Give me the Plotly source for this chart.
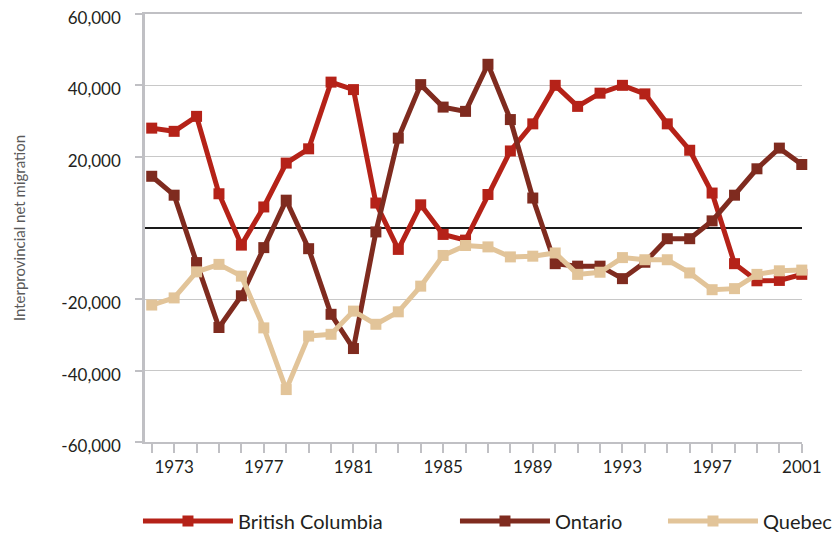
import plotly.graph_objects as go

years = list(range(1972, 2002))

british_columbia = [28000, 27100, 31300, 9600, -4800, 5900, 18200, 22200, 40900, 38800,
                    7000, -6000, 6500, -1800, -3400, 9400, 21600, 29200, 40000, 34100,
                    37800, 40000, 37600, 29200, 21800, 9800, -10000, -14800, -14700, -13000]

ontario = [14500, 9200, -9700, -27900, -19000, -5500, 7800, -5800, -24200, -33800,
           -1100, 25200, 40200, 33900, 32700, 45900, 30400, 8400, -10000, -10700,
           -10700, -14200, -9600, -3000, -3000, 2000, 9200, 16600, 22400, 17800]

quebec = [-21600, -19600, -12300, -10200, -13500, -28000, -45300, -30300, -29800, -23300,
          -27000, -23500, -16300, -7700, -4900, -5300, -8100, -7900, -7000, -13000,
          -12400, -8300, -8900, -8900, -12600, -17300, -17000, -13000, -12000, -11800]

series_names = ["British Columbia", "Ontario", "Quebec"]
series_values = [british_columbia, ontario, quebec]
series_colors = ["#B52218", "#7F2B1F", "#E2C499"]
legend_ids = ["legend", "legend2", "legend3"]
legend_x = [-0.0107, 0.4718, 0.7884]

label_years = [1973, 1977, 1981, 1985, 1989, 1993, 1997, 2001]
y_ticks = [-60000, -40000, -20000, 20000, 40000, 60000]

font_family = "Lato, 'Open Sans', sans-serif"

fig = go.Figure()
for name, vals, col, lid in zip(series_names, series_values, series_colors, legend_ids):
    fig.add_trace(go.Scatter(
        x=years, y=vals, name=name, mode="lines+markers",
        line=dict(color=col, width=5),
        marker=dict(symbol="square", size=11, color=col),
        cliponaxis=False, legend=lid,
    ))

legend_common = dict(
    orientation="h", xanchor="left", y=-0.1844, yanchor="middle",
    itemwidth=90, font=dict(size=20, color="#231f20"),
    itemclick=False, itemdoubleclick=False, bgcolor="rgba(0,0,0,0)",
)

fig.update_layout(
    width=840, height=535,
    margin=dict(l=145, r=38, t=13.5, b=93, autoexpand=False),
    paper_bgcolor="white", plot_bgcolor="white",
    font=dict(family=font_family, size=17, color="#231f20"),
    showlegend=True,
    legend=dict(x=legend_x[0], **legend_common),
    legend2=dict(x=legend_x[1], **legend_common),
    legend3=dict(x=legend_x[2], **legend_common),
    xaxis=dict(
        range=[1971.7, 2001.01],
        tickvals=years,
        ticktext=[str(y) if y in label_years else "" for y in years],
        ticks="outside", ticklen=9, tickwidth=1.5, tickcolor="#c0c0c4",
        showline=True, linecolor="#c0c0c4", linewidth=2, mirror=True,
        showgrid=False, zeroline=False,
        tickfont=dict(size=17, color="#231f20"),
    ),
    yaxis=dict(
        range=[-60000, 60000],
        tickvals=y_ticks,
        ticktext=[f"{v:,}" for v in y_ticks],
        ticks="outside", ticklen=7, tickwidth=1.5, tickcolor="#c0c0c4",
        ticklabelstandoff=11, ticklabelshift=4,
        showline=True, linecolor="#c0c0c4", linewidth=2.5,
        showgrid=True, gridcolor="#c8c8c8", gridwidth=1.3,
        zeroline=True, zerolinecolor="#1a1a1a", zerolinewidth=2,
        tickfont=dict(size=17, color="#231f20"),
        title=dict(text="Interprovincial net migration",
                   font=dict(size=15, color="#5a5a5a"), standoff=33),
    ),
)

fig.write_html("out.html", config={"displayModeBar": False},
               post_script="document.body.style.margin='0';")
